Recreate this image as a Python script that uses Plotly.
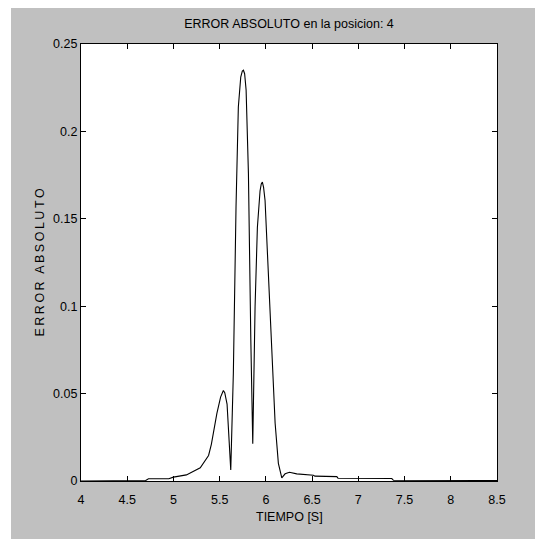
import plotly.graph_objects as go

# Time (s) and absolute error values
tiempo = [4.0, 4.70, 4.73, 4.95, 5.00, 5.14, 5.29, 5.38, 5.41, 5.47, 5.51, 5.525, 5.54,
          5.555, 5.58, 5.62, 5.648, 5.677, 5.702, 5.728, 5.745, 5.757, 5.77, 5.786,
          5.811, 5.837, 5.858, 5.883, 5.908, 5.937, 5.95, 5.962, 5.975, 5.991, 6.027,
          6.064, 6.10, 6.135, 6.172, 6.208, 6.255, 6.334, 6.514, 6.53, 6.767, 6.78,
          7.362, 7.38, 8.5]
error_abs = [0.0, 0.0003, 0.0013, 0.0013, 0.0022, 0.0035, 0.0076, 0.0146, 0.021, 0.0387,
             0.048, 0.0505, 0.0518, 0.0505, 0.044, 0.0063, 0.0616, 0.157, 0.214, 0.231,
             0.2345, 0.235, 0.233, 0.2237, 0.176, 0.0807, 0.0213, 0.0997, 0.145, 0.166,
             0.1700, 0.171, 0.168, 0.1605, 0.119, 0.071, 0.033, 0.0101, 0.0018, 0.0041,
             0.005, 0.0041, 0.0033, 0.0028, 0.0025, 0.0016, 0.0014, 0.0004, 0.0003]

x_ticks = [4, 4.5, 5, 5.5, 6, 6.5, 7, 7.5, 8, 8.5]
y_ticks = [0, 0.05, 0.1, 0.15, 0.2, 0.25]
y_tick_labels = ["0", "0.05", "0.1", "0.15", "0.2", "0.25"]

titulo = "ERROR ABSOLUTO en la posicion: 4"
x_label = "TIEMPO [S]"
y_label = "\u2009".join("ERROR") + "\u2009\u2009\u2009" + "\u2009".join("ABSOLUTO")

FONT = "Liberation Sans, Arial, sans-serif"
GRAY = "#c0c0c0"

fig = go.Figure()
fig.add_trace(go.Scatter(x=tiempo, y=error_abs, mode="lines",
                         line=dict(color="black", width=1.1), showlegend=False))

axis_common = dict(showgrid=False, zeroline=False, showline=True, linecolor="black",
                   linewidth=1.3, mirror="allticks", ticks="inside", ticklen=5,
                   tickcolor="black", tickwidth=1,
                   tickfont=dict(family=FONT, size=12.5, color="black"))

fig.update_xaxes(range=[4, 8.5], tickvals=x_ticks, ticktext=[str(v) for v in x_ticks],
                 ticklabelstandoff=7, **axis_common)
fig.update_yaxes(range=[0, 0.25], tickvals=y_ticks, ticktext=y_tick_labels,
                 **axis_common)

PW = 416.0  # plot width in px
PH = 437.0  # plot height in px

fig.update_layout(
    width=535, height=531,
    margin=dict(l=73, r=46, t=36, b=58),
    paper_bgcolor=GRAY, plot_bgcolor="white",
    font=dict(family=FONT, size=12.5, color="black"),
    title=dict(text=titulo, x=0.5, xref="paper", y=1 - 16 / 531, yref="container",
               xanchor="center", yanchor="middle",
               font=dict(family=FONT, size=12.5, color="black")),
    shapes=[dict(type="rect", xref="paper", yref="paper", x0=-80 / PW, x1=-70 / PW,
                 y0=-0.3, y1=1.3, fillcolor="white", line=dict(width=0),
                 layer="above")],
    annotations=[
        dict(text=x_label, xref="paper", yref="paper", x=0.5, y=(481 - 517) / PH,
             xanchor="center", yanchor="middle", showarrow=False,
             font=dict(family=FONT, size=12.5, color="black")),
        dict(text=y_label, xref="paper", yref="paper", x=(39 - 81) / PW, y=0.5,
             xanchor="center", yanchor="middle", showarrow=False, textangle=-90,
             font=dict(family=FONT, size=12.5, color="black")),
    ],
)

fig.write_html("out.html")
